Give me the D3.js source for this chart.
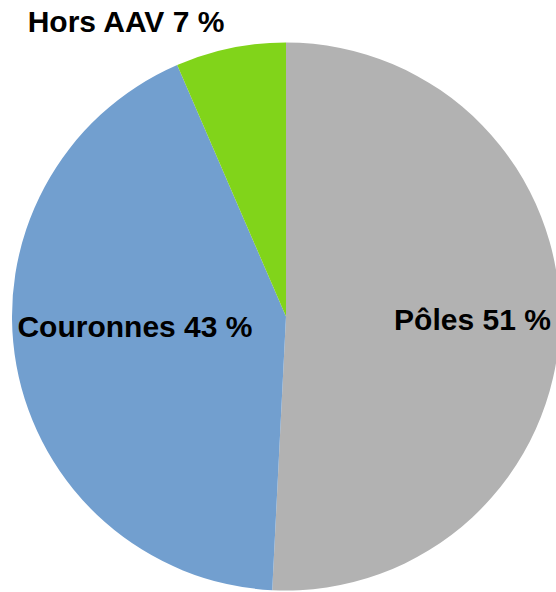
<!DOCTYPE html>
<html>
<head>
<meta charset="utf-8">
<script src="https://cdn.jsdelivr.net/npm/d3@7"></script>
<style>
  html, body { margin: 0; padding: 0; background: #fff; }
  svg { display: block; }
  .lbl { font-family: "Liberation Sans", Arial, sans-serif; font-weight: bold; font-size: 30px; fill: #000; }
</style>
</head>
<body>
<div id="chart"></div>
<script>
// pie data (labels are rounded)
var categories = ["Pôles", "Couronnes", "Hors AAV"];
var values = [50.8, 42.7, 6.5];
var labels = ["Pôles 51 %", "Couronnes 43 %", "Hors AAV 7 %"];
var colors = ["#b2b2b2", "#729fcf", "#81d41a"];

var W = 556, H = 592;
var cx = 286, cy = 316.5, R = 274;

var svg = d3.select("#chart").append("svg")
    .attr("width", W).attr("height", H);

var g = svg.append("g").attr("transform", "translate(" + cx + "," + cy + ")");

var pie = d3.pie().sort(null).value(function(d){ return d; });
var arcs = pie(values);
var arc = d3.arc().innerRadius(0).outerRadius(R);

g.selectAll("path.slice").data(arcs).enter().append("path")
    .attr("class", "slice")
    .attr("d", arc)
    .attr("fill", function(d, i){ return colors[i]; });

// label spots: the two big ones inside (centroid at ~0.69 R), small one above the pie
var labelArc = d3.arc().innerRadius(R * 0.69).outerRadius(R * 0.69);
g.selectAll("text.lbl").data(arcs).enter().append("text")
    .attr("class", "lbl")
    .attr("text-anchor", "middle")
    .attr("x", function(d, i){
        if (i == 2) return 126 - cx;
        var c = labelArc.centroid(d);
        return i == 1 ? c[0] + 35 : c[0] - 2.5;
    })
    .attr("y", function(d, i){
        if (i == 2) return 32 - cy;
        var c = labelArc.centroid(d);
        return (i == 1 ? 337 - cy : c[1] + 9);
    })
    .text(function(d, i){ return labels[i]; });
</script>
</body>
</html>
